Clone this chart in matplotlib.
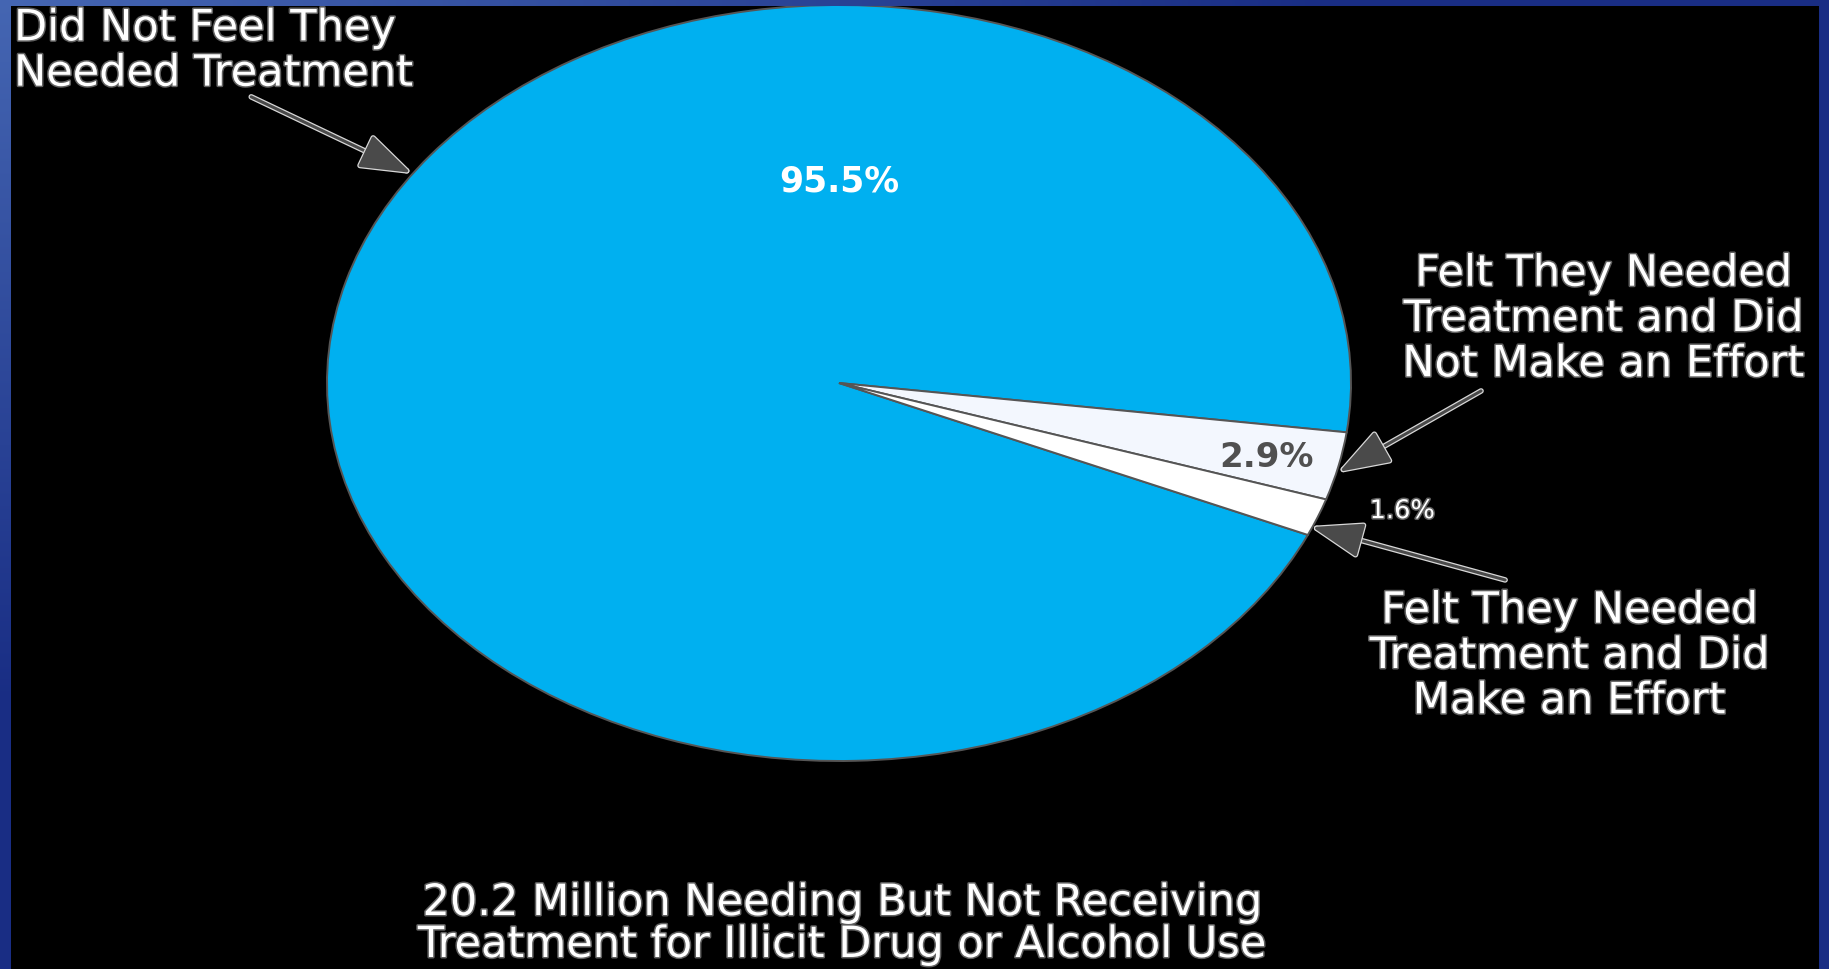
import numpy as np
import matplotlib
matplotlib.use("Agg")
import matplotlib.pyplot as plt
import matplotlib.patheffects as pe

W, H = 1829, 969

shares = [95.5, 2.9, 1.6]
share_labels = ["95.5%", "2.9%", "1.6%"]
slice_colors = ["#00b0f0", "#f3f7fe", "#ffffff"]
group_names = [
    "Did Not Feel They\nNeeded Treatment",
    "Felt They Needed\nTreatment and Did\nNot Make an Effort",
    "Felt They Needed\nTreatment and Did\nMake an Effort",
]
caption = "20.2 Million Needing But Not Receiving\nTreatment for Illicit Drug or Alcohol Use"

plt.rcParams["font.family"] = ["DejaVu Sans"]

fig = plt.figure(figsize=(W / 100, H / 100), dpi=100)
fig.patch.set_facecolor("black")


def px(x, y):
    return x / W, 1 - y / H


# pie axes stretched into an ellipse like the slide
ax = fig.add_axes([327 / W, 1 - 761 / H, 1024 / W, 756 / H])
wedges, _ = ax.pie(shares, colors=slice_colors, startangle=-23.7, counterclock=False,
                   wedgeprops=dict(edgecolor="#555555", linewidth=1.4))
ax.set_aspect("auto")
ax.set_xlim(-1, 1)
ax.set_ylim(-1, 1)
ax.axis("off")

outline = [pe.withStroke(linewidth=2.2, foreground="#606060")]

ax.text(0.0, 0.534, share_labels[0], color="white", fontsize=25, fontweight="bold",
        ha="center", va="center")
ax.text(0.835, -0.198, share_labels[1], color="#505050", fontsize=24.5, fontweight="bold",
        ha="center", va="center")
ax.text(1.10, -0.339, share_labels[2], color="white", fontsize=18.5,
        ha="center", va="center", path_effects=outline)

arrow_kw = dict(arrowstyle="-|>,head_length=1.6,head_width=0.55", mutation_scale=20,
                lw=2.2, color="#4a4a4a", shrinkA=0, shrinkB=0,
                path_effects=[pe.withStroke(linewidth=4, foreground="#d8d8d8")])
ax.annotate("", xy=(-0.836, 0.556), xytext=(-1.148, 0.757), arrowprops=arrow_kw,
            annotation_clip=False)
ax.annotate("", xy=(0.977, -0.235), xytext=(1.254, -0.021), arrowprops=arrow_kw,
            annotation_clip=False)
ax.annotate("", xy=(0.924, -0.381), xytext=(1.301, -0.521), arrowprops=arrow_kw,
            annotation_clip=False)

fig.text(*px(14, 51), group_names[0], color="white", fontsize=31, ha="left", va="center",
         linespacing=1.1, path_effects=outline)
fig.text(*px(1603, 319), group_names[1], color="white", fontsize=31, ha="center",
         va="center", multialignment="center", linespacing=1.1, path_effects=outline)
fig.text(*px(1569, 656), group_names[2], color="white", fontsize=31, ha="center",
         va="center", multialignment="center", linespacing=1.1, path_effects=outline)
fig.text(*px(841, 924), caption, color="white", fontsize=31, ha="center", va="center",
         multialignment="center", linespacing=1.0, path_effects=outline)

# blue slide frame on top
frame = fig.add_axes([0, 0, 1, 1], zorder=10)
frame.axis("off")
yy, xx = np.mgrid[0:H, 0:W]
t = np.clip(np.sqrt((xx / W) ** 2 + (yy / H) ** 2) * 1.4, 0, 1)[..., None]
c1 = np.array([0.27, 0.40, 0.70])
c2 = np.array([0.10, 0.18, 0.52])
img = np.zeros((H, W, 4))
img[..., :3] = c1 * (1 - t) + c2 * t
mask = (xx < 11) | (xx >= 1819) | (yy < 6)
img[..., 3] = mask
frame.imshow(img, extent=[0, W, H, 0], aspect="auto", interpolation="nearest")
frame.set_xlim(0, W)
frame.set_ylim(H, 0)
frame.axis("off")

fig.savefig("out.png", dpi=100, facecolor=fig.get_facecolor())
